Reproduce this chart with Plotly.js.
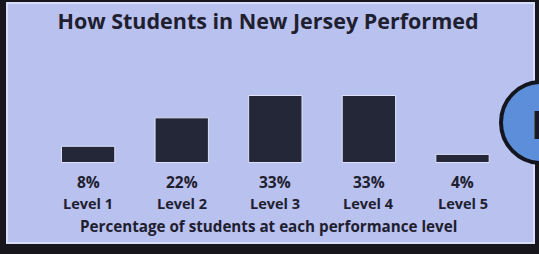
<!DOCTYPE html>
<html>
<head>
<meta charset="utf-8">
<script src="https://cdn.plot.ly/plotly-3.0.1.min.js"></script>
<style>html,body{margin:0;padding:0;background:#17161d;}#chart{width:539px;height:254px;}</style>
</head>
<body>
<div id="chart"></div>
<script>
// ---- data ----
const categories = ['Level 1', 'Level 2', 'Level 3', 'Level 4', 'Level 5'];
const percents = [8, 22, 33, 33, 4];
const percentLabels = ['8%', '22%', '33%', '33%', '4%'];
const chartTitle = 'How Students in New Jersey Performed';
const axisTitle = 'Percentage of students at each performance level';

// ---- layout helpers (pixel geometry of the panel) ----
const W = 539, H = 254;
const panel = {l: 7, r: 534, t: 3, b: 243};
const pw = panel.r - panel.l, ph = panel.b - panel.t;
const px = x => (x - panel.l) / pw;   // pixel -> paper
const py = y => (panel.b - y) / ph;

const font = 'Open Sans, Noto Sans, sans-serif';
const ink = '#1e2030';

const annotations = [];
categories.forEach((c, i) => {
  annotations.push({x: i, y: 0, xref: 'x', yref: 'y', text: '<b>' + percentLabels[i] + '</b>',
    showarrow: false, yanchor: 'middle', yshift: -19.5, font: {family: font, size: 15.5, color: ink}});
  annotations.push({x: i, y: 0, xref: 'x', yref: 'y', text: '<b>' + c + '</b>',
    showarrow: false, yanchor: 'middle', yshift: -41.5, font: {family: font, size: 14.5, color: ink}});
});
annotations.push({x: px(268), y: py(226), xref: 'paper', yref: 'paper', text: '<b>' + axisTitle + '</b>',
  showarrow: false, xanchor: 'center', yanchor: 'middle',
  font: {family: font, size: 15.2, color: ink}});
annotations.push({x: px(546), y: py(123), xref: 'paper', yref: 'paper', text: '<b>H</b>',
  showarrow: false, xanchor: 'center', yanchor: 'middle',
  font: {family: font, size: 40, color: '#16192a'}});

const data = [{
  type: 'bar', x: categories.map((c, i) => i), y: percents,
  width: 0.57,
  marker: {color: '#232737', line: {color: '#dfe4fb', width: 1}},
  hoverinfo: 'skip'
}];

const layout = {
  width: W, height: H,
  margin: {l: panel.l, r: W - panel.r, t: panel.t, b: H - panel.b, pad: 0},
  paper_bgcolor: '#17161d',
  plot_bgcolor: '#b9c1ee',
  showlegend: false,
  title: {text: '<b>' + chartTitle + '</b>', x: 268 / W, xanchor: 'center',
    y: 1 - 21 / H, yanchor: 'middle', font: {family: font, size: 21.5, color: ink}},
  xaxis: {range: [-0.867, 4.764], showgrid: false, zeroline: false, showticklabels: false,
    showline: false, ticks: '', fixedrange: true},
  yaxis: {range: [-39.66, 78.57], showgrid: false, zeroline: false, showticklabels: false,
    showline: false, ticks: '', fixedrange: true},
  shapes: [
    {type: 'rect', xref: 'paper', yref: 'paper', x0: 0, x1: 1, y0: 0, y1: 1,
      line: {color: '#d9def8', width: 2}, fillcolor: 'rgba(0,0,0,0)', layer: 'below'},
    {type: 'circle', xref: 'paper', yref: 'paper', x0: px(501), x1: px(581), y0: py(163), y1: py(82),
      line: {color: '#14161f', width: 4}, fillcolor: '#5d8ed9', layer: 'above'}
  ],
  annotations: annotations
};

Plotly.newPlot('chart', data, layout, {displayModeBar: false, staticPlot: true});
</script>
</body>
</html>
